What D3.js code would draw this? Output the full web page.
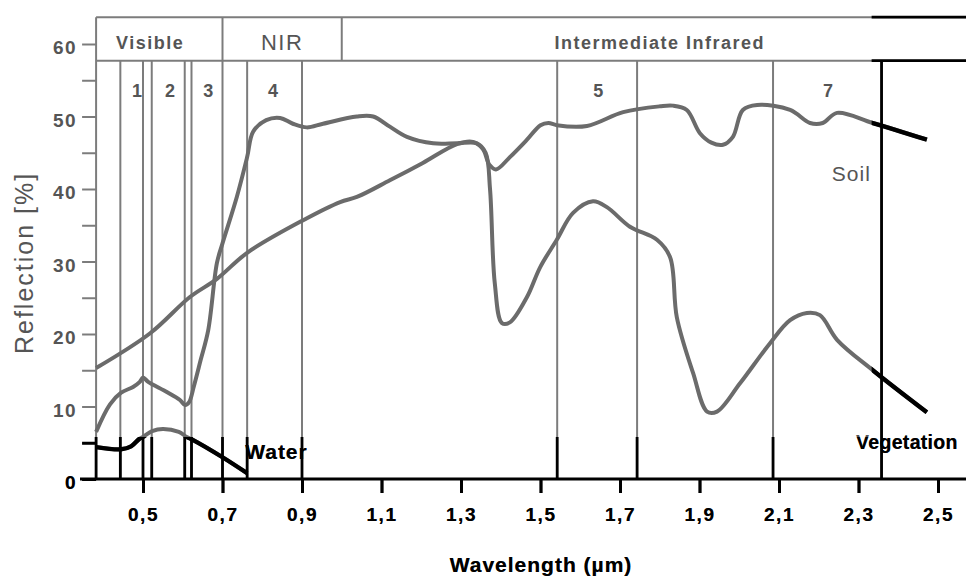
<!DOCTYPE html>
<meta charset="utf-8">
<style>
body { margin: 0; background: #fff; }
svg text { font-family: "Liberation Sans", Arial, sans-serif; }
</style>
<body></body>
<script src="https://d3js.org/d3.v7.min.js"></script>
<script>
// spectral reflection curves: [wavelength µm, reflection %]
const soil = [
    [0.382, 15.3], [0.518, 20.1], [0.618, 25.1], [0.686, 27.6], [0.762, 31.2],
    [0.903, 35.7], [0.996, 38.2], [1.038, 38.9], [1.121, 41.2], [1.204, 43.6],
    [1.29, 46.2], [1.33, 46.5], [1.355, 45.5], [1.372, 43.3], [1.388, 42.7],
    [1.423, 44.4], [1.466, 46.8], [1.5, 48.8], [1.52, 49.1], [1.541, 48.8],
    [1.617, 48.7], [1.708, 50.6], [1.80, 51.4], [1.833, 51.5], [1.868, 50.9],
    [1.901, 47.7], [1.93, 46.4], [1.959, 46.1], [1.984, 47.2], [2.009, 50.9],
    [2.045, 51.6], [2.128, 50.9], [2.178, 49.1], [2.21, 49.1], [2.246, 50.5],
    [2.336, 49.1], [2.472, 46.8]
]
const vegetation = [
    [0.382, 6.5], [0.417, 10.3], [0.445, 11.9], [0.475, 12.7], [0.492, 13.4],
    [0.50, 14.0], [0.513, 13.4], [0.56, 12.0], [0.593, 10.9], [0.606, 10.2],
    [0.616, 10.6], [0.628, 12.8], [0.645, 16.4], [0.664, 20.5], [0.686, 29.8],
    [0.70, 32.5], [0.736, 38.9], [0.762, 44.4], [0.777, 47.9], [0.81, 49.5],
    [0.845, 49.8], [0.877, 49.0], [0.912, 48.5], [0.953, 49.0], [1.038, 50.0],
    [1.079, 50.0], [1.121, 48.6], [1.164, 47.2], [1.23, 46.3], [1.29, 46.3],
    [1.34, 46.3], [1.362, 45.0], [1.373, 40.0], [1.385, 27.0], [1.403, 21.5],
    [1.423, 21.6], [1.466, 25.1], [1.499, 29.2], [1.541, 33.0], [1.582, 36.7],
    [1.632, 38.3], [1.667, 37.5], [1.725, 34.8], [1.793, 33.0], [1.826, 30.6],
    [1.843, 22.3], [1.884, 14.6], [1.919, 9.3], [1.944, 9.3], [2.002, 13.2],
    [2.077, 18.7], [2.128, 21.9], [2.17, 22.9], [2.203, 22.6], [2.246, 19.2],
    [2.336, 15.0], [2.472, 9.2]
]
const water = [
    [0.382, 4.4], [0.445, 4.1], [0.47, 4.5], [0.49, 5.5], [0.50, 5.8],
    [0.523, 6.6], [0.55, 6.9], [0.59, 6.5], [0.61, 5.8], [0.625, 5.4],
    [0.70, 3.0], [0.762, 0.8]
]

// Landsat TM band edges and labels
const bandLines = [0.443, 0.50, 0.522, 0.605, 0.622, 0.70, 0.762, 0.90, 1.542, 1.743, 2.085, 2.358]
const bandNames = ['1', '2', '3', '4', '5', '7']
const bandCentres = [0.485, 0.568, 0.664, 0.827, 1.645, 2.223]

const regionNames = ['Visible', 'NIR', 'Intermediate Infrared']
const regionCentres = [0.518, 0.85, 1.80]
const regionBreaks = [0.70, 1.0]

const xTicks = [0.5, 0.7, 0.9, 1.1, 1.3, 1.5, 1.7, 1.9, 2.1, 2.3, 2.5]
const yTicks = [0, 5, 10, 15, 20, 25, 30, 35, 40, 45, 50, 55, 60]

const curveNames = ['Soil', 'Vegetation', 'Water']
const curveNameAt = [[2.233, 41.1], [2.294, 4.1], [0.757, 2.8]]

// the print is grey except right of ~2.33 µm and below ~5.8 %
const inkW = 2.333
const inkV = 5.8

const width = 966
const height = 577

const x = d3.scaleLinear().domain([0.5, 2.5]).range([143, 938])
const y = d3.scaleLinear().domain([0, 60]).range([479, 44])
const xLeft = x(0.382)
const headTop = 63.7
const headBottom = 57.7

const grey = { line: '#7c7c7c', curve: '#6b6b6b', text: '#555', boost: 0 }
const black = { line: '#000', curve: '#000', text: '#000', boost: 0.8 }

const svg = d3.select('body').append('svg')
    .attr('width', width)
    .attr('height', height)

svg.append('clipPath').attr('id', 'ink')
    .selectAll('rect')
    .data([[x(inkW), 0, width - x(inkW), height], [0, y(inkV), width, height - y(inkV)]])
    .join('rect')
        .attr('x', d => d[0]).attr('y', d => d[1])
        .attr('width', d => d[2]).attr('height', d => d[3])

drawScene(svg.append('g'), grey)
drawScene(svg.append('g').attr('clip-path', 'url(#ink)'), black)

function drawScene (g, ink) {
    const thin = 2 + ink.boost

    // header box
    g.selectAll('.head').data([headTop, headBottom]).join('line')
        .attr('x1', xLeft).attr('x2', width)
        .attr('y1', d => y(d)).attr('y2', d => y(d))
        .attr('stroke', ink.line).attr('stroke-width', thin)
    g.selectAll('.brk').data(regionBreaks).join('line')
        .attr('x1', d => x(d)).attr('x2', d => x(d))
        .attr('y1', y(headTop)).attr('y2', y(headBottom))
        .attr('stroke', ink.line).attr('stroke-width', thin)
    g.selectAll('.region').data(regionNames).join('text')
        .attr('x', (d, i) => x(regionCentres[i]))
        .attr('y', y(60.2))
        .attr('dy', '0.36em')
        .attr('text-anchor', 'middle')
        .attr('font-size', (d, i) => i === 1 ? 22 : 18)
        .attr('font-weight', (d, i) => i === 1 ? 'normal' : 'bold')
        .attr('letter-spacing', 1.5)
        .attr('fill', ink.text)
        .text(d => d)

    // band edges
    g.selectAll('.band').data(bandLines).join('line')
        .attr('x1', d => x(d)).attr('x2', d => x(d))
        .attr('y1', y(headBottom)).attr('y2', y(0))
        .attr('stroke', ink.line).attr('stroke-width', thin)
    g.selectAll('.bandname').data(bandNames).join('text')
        .attr('x', (d, i) => x(bandCentres[i]))
        .attr('y', y(53.6))
        .attr('dy', '0.36em')
        .attr('text-anchor', 'middle')
        .attr('font-size', 18)
        .attr('font-weight', 'bold')
        .attr('fill', ink.text)
        .text(d => d)

    // y axis
    g.append('line')
        .attr('x1', xLeft).attr('x2', xLeft)
        .attr('y1', y(headTop)).attr('y2', y(0))
        .attr('stroke', ink.line).attr('stroke-width', thin)
    const yAxis = d3.axisLeft(y)
        .tickValues(yTicks)
        .tickSize(14)
        .tickPadding(5)
        .tickFormat(d => d % 10 ? '' : d)
    const ya = g.append('g')
        .attr('transform', `translate(${xLeft},0)`)
        .attr('color', ink.text)
        .call(yAxis)
    ya.select('.domain').remove()
    ya.selectAll('line').attr('stroke', ink.line).attr('stroke-width', thin)
    ya.selectAll('text')
        .attr('dy', '0.5em')
        .attr('font-size', 19)
        .attr('font-weight', 'bold')
        .attr('letter-spacing', 1.5)
        .attr('font-family', '"Liberation Sans", Arial, sans-serif')

    // x axis
    g.append('line')
        .attr('x1', 80).attr('x2', width)
        .attr('y1', y(0)).attr('y2', y(0))
        .attr('stroke', ink.line).attr('stroke-width', thin)
    const xAxis = d3.axisBottom(x)
        .tickValues(xTicks)
        .tickSize(14)
        .tickPadding(15)
        .tickFormat(d => d3.format('.1f')(d).replace('.', ','))
    const xa = g.append('g')
        .attr('transform', `translate(0,${y(0)})`)
        .attr('color', ink.text)
        .call(xAxis)
    xa.select('.domain').remove()
    xa.selectAll('line').attr('stroke', ink.line).attr('stroke-width', 3)
    xa.selectAll('text')
        .attr('font-size', 19)
        .attr('font-weight', 'bold')
        .attr('letter-spacing', 1.5)
        .attr('font-family', '"Liberation Sans", Arial, sans-serif')

    // titles
    g.append('text')
        .attr('transform', `translate(33,${y(29.8)}) rotate(-90)`)
        .attr('text-anchor', 'middle')
        .attr('font-size', 25)
        .attr('letter-spacing', 2)
        .attr('fill', ink.text)
        .text('Reflection [%]')
    g.append('text')
        .attr('x', 541).attr('y', 572)
        .attr('text-anchor', 'middle')
        .attr('font-size', 21)
        .attr('font-weight', 'bold')
        .attr('letter-spacing', 1)
        .attr('fill', ink.text)
        .text('Wavelength (µm)')

    // curves
    const line = d3.line()
        .x(d => x(d[0]))
        .y(d => y(d[1]))
        .curve(d3.curveCatmullRom.alpha(0.5))
    g.selectAll('.curve').data([soil, vegetation, water]).join('path')
        .attr('d', line)
        .attr('fill', 'none')
        .attr('stroke', ink.curve)
        .attr('stroke-width', 4 + ink.boost / 2)
        .attr('stroke-linejoin', 'round')

    g.selectAll('.curvename').data(curveNames).join('text')
        .attr('x', (d, i) => x(curveNameAt[i][0]))
        .attr('y', (d, i) => y(curveNameAt[i][1]))
        .attr('font-size', (d, i) => i === 1 ? 19.5 : 21)
        .attr('font-weight', (d, i) => i === 0 ? 'normal' : 'bold')
        .attr('letter-spacing', (d, i) => i === 1 ? 0.3 : 1)
        .attr('fill', ink.text)
        .text(d => d)
}
</script>
